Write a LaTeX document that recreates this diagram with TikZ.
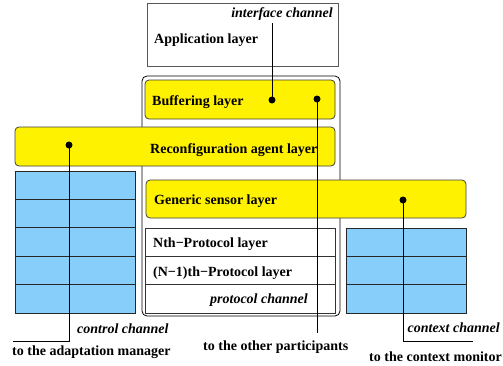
\documentclass[tikz,border=0pt]{standalone}
\usepackage{fontspec}
\setmainfont{Liberation Serif}
\definecolor{skyb}{RGB}{135,206,250}
\begin{document}
\begin{tikzpicture}[x=1pt,y=-1pt,
  lbl/.style={font=\fontsize{14}{16}\selectfont\bfseries, inner sep=0pt},
  ilbl/.style={font=\fontsize{14}{16}\selectfont\bfseries\itshape, inner sep=0pt},
  box/.style={anchor=north west, inner sep=0pt, outer sep=0pt},
  ybox/.style={box, draw=black!75, fill=yellow, rounded corners=4pt, line width=0.8pt},
  bbox/.style={box, draw=black!85, fill=skyb, line width=0.8pt},
  wbox/.style={box, draw=black!75, fill=white, line width=0.8pt},
  wire/.style={line width=0.9pt},
  dot/.style={circle, fill=black, inner sep=0pt, minimum size=7pt}]
\useasboundingbox (0,0) rectangle (503,365);
% outer stack
\node[wbox, draw=black, rounded corners=5pt, minimum width=198pt, minimum height=240pt] (outer) at (142,76) {};
% application layer
\node[wbox, draw=black!65, minimum width=191pt, minimum height=63pt] (app) at (147,3) {};
% yellow layers
\node[ybox, minimum width=190pt, minimum height=39pt] (buf) at (145,80) {};
\node[ybox, minimum width=320pt, minimum height=39pt] (rec) at (15,127) {};
\node[ybox, minimum width=320pt, minimum height=38pt] (sen) at (146,180) {};
% protocol box
\node[wbox, draw=black!80, minimum width=190pt, minimum height=85pt] (pro) at (145.5,228) {};
\draw[black!80, line width=0.8pt] (pro.west |- 0,256) -- (pro.east |- 0,256);
\draw[black!80, line width=0.8pt] (pro.west |- 0,284) -- (pro.east |- 0,284);
% left grid
\node[bbox, minimum width=120pt, minimum height=142pt] (lg) at (15,171) {};
\foreach \yy in {199.5,227.8,256,284.4}
  \draw[black!85, line width=0.8pt] (lg.west |- 0,\yy) -- (lg.east |- 0,\yy);
% right grid
\node[bbox, minimum width=120pt, minimum height=85pt] (rg) at (346,228) {};
\foreach \yy in {256,284}
  \draw[black!85, line width=0.8pt] (rg.west |- 0,\yy) -- (rg.east |- 0,\yy);
% dots
\node[dot] (d1) at (272,100) {};
\node[dot] (d2) at (317,99) {};
\node[dot] (d3) at (69,145) {};
\node[dot] (d4) at (403,200) {};
% connector ends
\coordinate (ift) at (272,23);
\coordinate (pe) at (317,333);
\coordinate (ac) at (69,341);
\coordinate (ae) at (13,341);
\coordinate (cc) at (403,341);
\coordinate (ce) at (473,341);
\draw[wire] (ift) -- (d1.center);
\draw[wire] (d2.center) -- (pe);
\draw[wire] (d3.center) -- (ac) -- (ae);
\draw[wire] (d4.center) -- (cc) -- (ce);
% texts
\node[ilbl, anchor=base east] (t1) at (333,17) {interface channel};
\node[lbl, anchor=base west] (t2) at (154,43) {Application layer};
\node[lbl, anchor=base west] (t3) at (152,105) {Buffering layer};
\node[lbl, anchor=base west] (t4) at (150,153) {Reconfiguration agent layer};
\node[lbl, anchor=base west] (t5) at (154,204) {Generic sensor layer};
\node[lbl, anchor=base west] (t6) at (153,247) {Nth−Protocol layer};
\node[lbl, anchor=base west] (t7) at (153,276) {(N−1)th−Protocol layer};
\node[ilbl, anchor=base east] (t8) at (308,303) {protocol channel};
\node[ilbl, anchor=base west] (t9) at (77,333) {control channel};
\node[lbl, anchor=base west] (t10) at (12,355) {to the adaptation manager};
\node[lbl, anchor=base west] (t11) at (203,350) {to the other participants};
\node[ilbl, anchor=base east] (t12) at (500,332) {context channel};
\node[lbl, anchor=base east] (t13) at (502,361) {to the context monitor};
\end{tikzpicture}
\end{document}
